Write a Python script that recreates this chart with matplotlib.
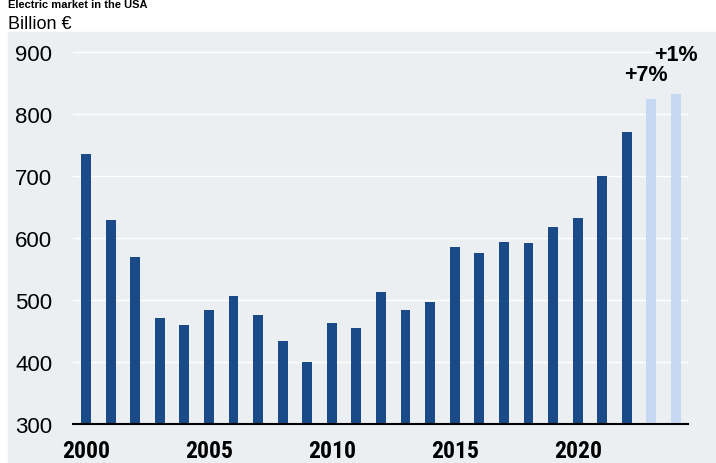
import matplotlib.pyplot as plt
from matplotlib.patches import Rectangle

years = list(range(2000, 2025))
values = [735, 629, 569, 471, 459, 483, 506, 476, 433, 400, 463, 455, 512,
          483, 496, 586, 575, 593, 591, 618, 632, 700, 770, 824, 832]
forecast_years = [2023, 2024]
growth_labels = ["+7%", "+1%"]
growth_label_x = [2022.76, 2024.0]
growth_label_y = [864, 896]
tick_years = [2000, 2005, 2010, 2015, 2020]
y_ticks = [300, 400, 500, 600, 700, 800, 900]

dark_blue = "#1a4a87"
light_blue = "#c5daf2"
bg = "#eceff1"

fig = plt.figure(figsize=(7.16, 4.64), dpi=100)
fig.add_artist(Rectangle((8 / 716, 0), 1, 1 - 33 / 464, transform=fig.transFigure,
                         color=bg, zorder=-5))

ax = fig.add_axes([73 / 716, 1 - 425 / 464, (688 - 73) / 716, (425 - 33) / 464])
ax.set_zorder(2)
ax.set_facecolor("none")

colors = [light_blue if y in forecast_years else dark_blue for y in years]
ax.bar(years, [v - 300 for v in values], bottom=300, width=0.4, color=colors, zorder=3)

for lab, gx, gy in zip(growth_labels, growth_label_x, growth_label_y):
    ax.text(gx, gy, lab, ha="center", va="center", fontsize=15.5,
            fontweight="bold", family="Liberation Sans", zorder=4,
            bbox=dict(facecolor=bg, edgecolor="none", pad=1))

ax.set_xlim(1999.47, 2024.49)
ax.set_ylim(300, 931.7)
ax.set_yticks(y_ticks)
ax.set_xticks(tick_years)
ax.set_xticklabels([str(t) for t in tick_years], fontsize=17, fontweight="bold",
                   family="Roboto Condensed")
ax.set_yticklabels([str(t) for t in y_ticks], fontsize=16, family="Liberation Sans")
ax.tick_params(axis="y", length=0, pad=15)
ax.tick_params(axis="x", length=0, pad=11)
ax.grid(axis="y", color="white", linewidth=1.0, zorder=1)
for s in ["top", "right", "left"]:
    ax.spines[s].set_visible(False)
ax.spines["bottom"].set_color("black")
ax.spines["bottom"].set_linewidth(1.5)
ax.spines["bottom"].set_zorder(5)

fig.text(8 / 716, 1 - 0.5 / 464, "Electric market in the USA", fontsize=8, fontweight="bold",
         family="Liberation Sans", va="top", ha="left")
fig.text(8 / 716, 1 - 29 / 464, "Billion €", fontsize=13, family="Liberation Sans",
         va="baseline", ha="left")

fig.savefig("out.png", dpi=100)
